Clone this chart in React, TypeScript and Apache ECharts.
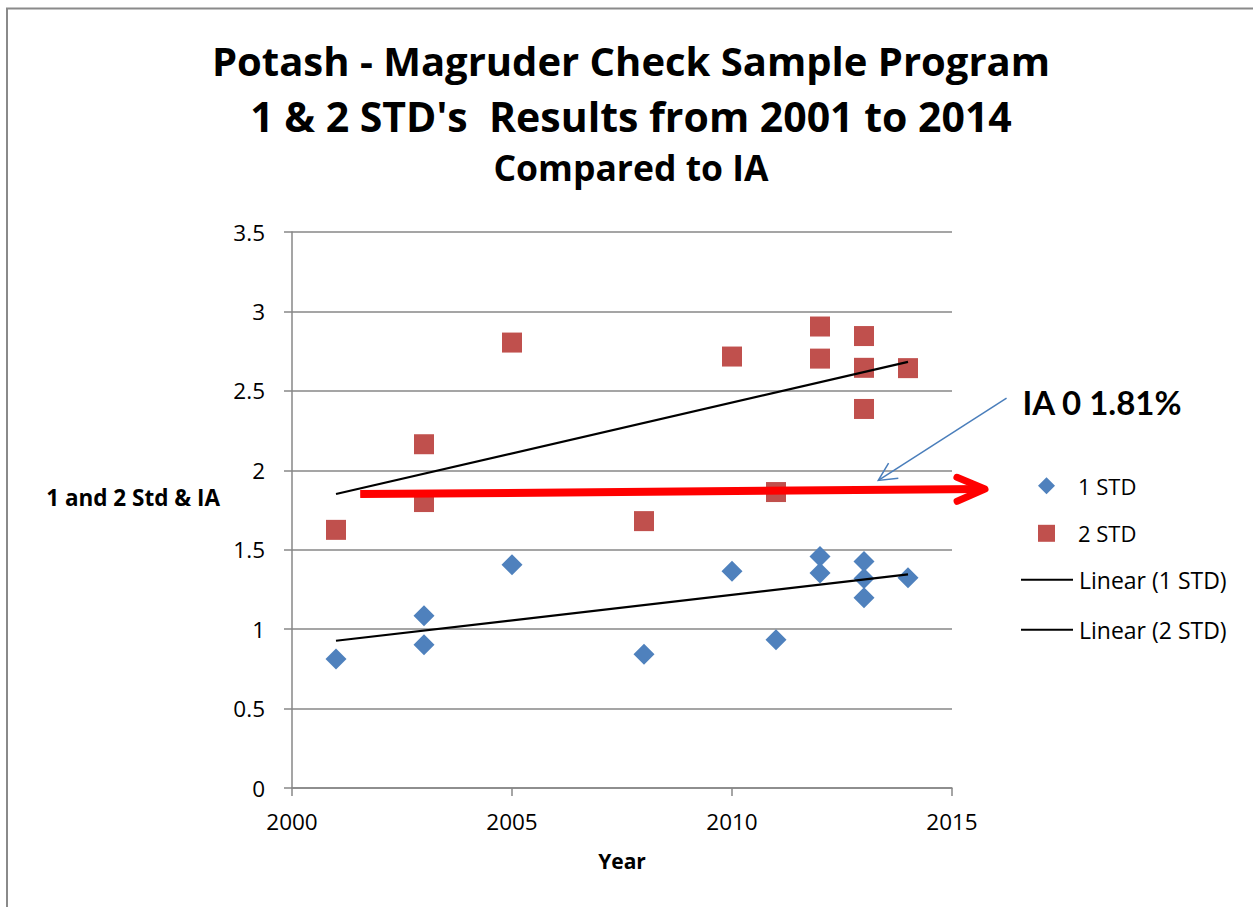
import React, { useEffect, useRef } from "react";
import * as echarts from "echarts";

const TITLE_LINES = [
  "Potash - Magruder Check Sample Program",
  "1 & 2 STD's  Results from 2001 to 2014",
  "Compared to IA",
];

const STD1_YEARS = [2001, 2003, 2003, 2005, 2008, 2010, 2011, 2012, 2012, 2013, 2013, 2013, 2014];
const STD1_VALUES = [0.812, 1.085, 0.902, 1.405, 0.842, 1.364, 0.933, 1.457, 1.354, 1.426, 1.319, 1.198, 1.324];

const STD2_YEARS = [2001, 2003, 2003, 2005, 2008, 2010, 2011, 2012, 2012, 2013, 2013, 2013, 2014];
const STD2_VALUES = [1.625, 2.164, 1.8, 2.804, 1.68, 2.716, 1.863, 2.905, 2.703, 2.845, 2.645, 2.386, 2.643];

const X_TICKS = [2000, 2005, 2010, 2015];
const Y_TICKS = [0, 0.5, 1, 1.5, 2, 2.5, 3, 3.5];

// annotations in data coordinates
const IA_ARROW = [[2001.55, 1.85], [2015.75, 1.882]];
const IA_POINTER = [[2016.24, 2.454], [2013.325, 1.936]];
const IA_LABEL = "IA 0 1.81%";
const IA_LABEL_POS = [2016.6, 2.431];

function trend(xs: number[], ys: number[]) {
  const n = xs.length;
  const mx = xs.reduce((a, b) => a + b, 0) / n;
  const my = ys.reduce((a, b) => a + b, 0) / n;
  let sxy = 0, sxx = 0;
  for (let i = 0; i < n; i++) {
    sxy += (xs[i] - mx) * (ys[i] - my);
    sxx += (xs[i] - mx) * (xs[i] - mx);
  }
  const b = sxy / sxx;
  const a = my - b * mx;
  const x0 = Math.min(...xs), x1 = Math.max(...xs);
  return [[x0, a + b * x0], [x1, a + b * x1]];
}

const FONT = "Open Sans";

export default function App() {
  const ref = useRef<HTMLDivElement>(null);
  useEffect(() => {
    const chart = echarts.init(ref.current!, null, { renderer: "svg" });
    const gridColor = "#878787";
    const titleStyle = (fs: number) => ({ fontFamily: FONT, fontWeight: "bold", fontSize: fs, color: "#000" });
    const option: any = {
      animation: false,
      backgroundColor: "#fff",
      textStyle: { fontFamily: FONT },
      title: [
        { text: TITLE_LINES[0], left: 631, top: 40, textAlign: "center", padding: 0, textStyle: titleStyle(40) },
        { text: TITLE_LINES[1], left: 631, top: 95.5, textAlign: "center", padding: 0, textStyle: titleStyle(41) },
        { text: TITLE_LINES[2], left: 631, top: 149, textAlign: "center", padding: 0, textStyle: titleStyle(35.5) },
      ],
      grid: { left: 292, top: 232, width: 660, height: 556, containLabel: false },
      xAxis: {
        type: "value", min: X_TICKS[0], max: X_TICKS[X_TICKS.length - 1], interval: 5,
        name: "Year", nameLocation: "middle", nameGap: 62,
        nameTextStyle: { fontFamily: FONT, fontWeight: "bold", fontSize: 21, color: "#000" },
        axisLine: { show: true, lineStyle: { color: gridColor, width: 1.5 } },
        axisTick: { show: true, inside: false, length: 8, lineStyle: { color: gridColor, width: 1.5 } },
        axisLabel: { fontFamily: FONT, fontSize: 22.5, color: "#000", margin: 22, formatter: (v: number) => String(v) },
        splitLine: { show: false },
      },
      yAxis: {
        type: "value", min: Y_TICKS[0], max: Y_TICKS[Y_TICKS.length - 1], interval: 0.5,
        name: "1 and 2 Std & IA", nameLocation: "middle", nameRotate: 0, nameGap: 72,
        nameTextStyle: { fontFamily: FONT, fontWeight: "bold", fontSize: 22.5, color: "#000",
          align: "right", verticalAlign: "bottom", lineHeight: 26 },
        axisLine: { show: true, lineStyle: { color: gridColor, width: 1.5 } },
        axisTick: { show: true, inside: false, length: 8, lineStyle: { color: gridColor, width: 1.5 } },
        axisLabel: { fontFamily: FONT, fontSize: 22.5, color: "#000", margin: 27, formatter: (v: number) => String(v) },
        splitLine: { show: true, lineStyle: { color: gridColor, width: 1.5 } },
      },
      legend: [
        {
          data: ["1 STD", "2 STD"], orient: "vertical", left: 1038, top: 474.7, padding: 0,
          itemWidth: 17, itemHeight: 17, itemGap: 25.6,
          textStyle: { fontFamily: FONT, fontSize: 22, color: "#000", lineHeight: 22, padding: [0, 0, 0, 18] },
        },
        {
          data: [
            { name: "Linear (1 STD)", icon: "rect" },
            { name: "Linear (2 STD)", icon: "rect" },
          ],
          orient: "vertical", left: 1021, top: 568.3, padding: 0,
          itemWidth: 52, itemHeight: 2, itemGap: 27,
          textStyle: { fontFamily: FONT, fontSize: 23, color: "#000", lineHeight: 22, padding: [0, 0, 0, 1] },
        },
      ],
      series: [
        { name: "1 STD", type: "scatter", symbol: "diamond", symbolSize: 21,
          itemStyle: { color: "#4F81BD", opacity: 1 },
          data: STD1_YEARS.map((x, i) => [x, STD1_VALUES[i]]) },
        { name: "2 STD", type: "scatter", symbol: "rect", symbolSize: 20,
          itemStyle: { color: "#C0504D", opacity: 1 },
          data: STD2_YEARS.map((x, i) => [x, STD2_VALUES[i]]) },
        { name: "Linear (1 STD)", type: "line", symbol: "none", showSymbol: false,
          lineStyle: { color: "#000", width: 2.2 }, itemStyle: { color: "#000" },
          data: trend(STD1_YEARS, STD1_VALUES) },
        { name: "Linear (2 STD)", type: "line", symbol: "none", showSymbol: false,
          lineStyle: { color: "#000", width: 2.2 }, itemStyle: { color: "#000" },
          data: trend(STD2_YEARS, STD2_VALUES) },
      ],
    };
    chart.setOption(option);

    const px = (p: number[]) => chart.convertToPixel({ gridIndex: 0 }, p) as number[];
    const head = (from: number[], to: number[], len: number, half: number) => {
      const dx = to[0] - from[0], dy = to[1] - from[1];
      const L = Math.hypot(dx, dy);
      const ux = dx / L, uy = dy / L;
      const bx = to[0] - ux * len, by = to[1] - uy * len;
      return [[bx - uy * half, by + ux * half], to, [bx + uy * half, by - ux * half]];
    };
    const a0 = px(IA_ARROW[0]), a1 = px(IA_ARROW[1]);
    const b0 = px(IA_POINTER[0]), b1 = px(IA_POINTER[1]);
    const t = px(IA_LABEL_POS);
    chart.setOption({
      graphic: [
        { type: "rect", silent: true, shape: { x: 7, y: 8.5, width: 1400, height: 1000 },
          style: { fill: "none", stroke: "#8a8a8a", lineWidth: 2 } },
        { type: "line", z: 50, shape: { x1: a0[0], y1: a0[1], x2: a1[0] - 3, y2: a1[1] },
          style: { stroke: "#FF0000", lineWidth: 8 } },
        { type: "polyline", z: 50, shape: { points: head(a0, a1, 28, 12) },
          style: { stroke: "#FF0000", lineWidth: 7, lineCap: "round", lineJoin: "round", fill: "none" } },
        { type: "line", z: 50, shape: { x1: b0[0], y1: b0[1], x2: b1[0], y2: b1[1] },
          style: { stroke: "#4A7EBB", lineWidth: 1.5 } },
        { type: "polyline", z: 50, shape: { points: head(b0, b1, 18, 9) },
          style: { stroke: "#4A7EBB", lineWidth: 1.5, fill: "none" } },
        { type: "text", z: 50, x: t[0], y: t[1],
          style: { text: IA_LABEL, fontFamily: "Lato", fontWeight: "bold", fontSize: 33, fill: "#000",
            textAlign: "left", textVerticalAlign: "middle" } },
      ],
    });
    return () => chart.dispose();
  }, []);
  return (
    <div
      ref={ref}
      style={{ position: "absolute", left: 0, top: 0, width: 1253, height: 907, background: "#fff" }}
    />
  );
}
